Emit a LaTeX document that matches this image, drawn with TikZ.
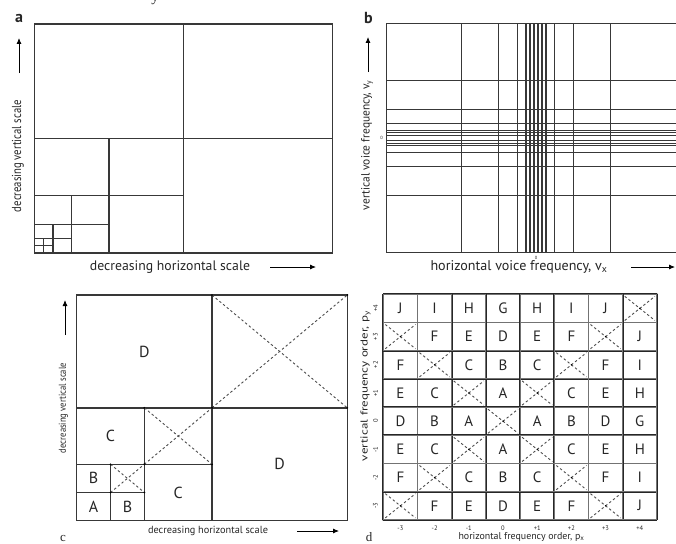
\documentclass[tikz,border=0pt]{standalone}
\usepackage{fontspec}
\setmainfont{PT Sans}
\newfontfamily\serifface{Liberation Serif}
\usetikzlibrary{arrows.meta}
\definecolor{ln}{gray}{0.22}
\definecolor{dash}{gray}{0.3}
\tikzset{
  pline/.style={draw=ln, line width=1.3pt},
  dline/.style={draw=dash, line width=0.9pt, dash pattern=on 2.4pt off 2.4pt},
  dgrid/.style={draw=black!85, line width=0.5pt, double=black!55, double distance=0.9pt},
  arr/.style={draw=black, line width=0.8pt, -{Latex[length=6pt,width=5pt]}},
  lbl/.style={inner sep=0pt, text=black!85},
  cornerdot/.style={fill=black, draw=none},
}
\newcommand\fitw[3]{\resizebox{#1}{\height}{\fontsize{#2}{#2}\selectfont #3}}
\newcommand\fitp[3]{\resizebox{#1}{!}{\fontsize{#2}{#2}\selectfont #3}}
\begin{document}
\begin{tikzpicture}[x=1pt,y=-1pt]
\useasboundingbox (0,0) rectangle (676,543);
\clip (0,0) rectangle (676,543);
\fill[white] (0,0) rectangle (676,543);

% stray glyph at top
\node[lbl, anchor=base] (topy) at (155,2) {\serifface\fontsize{15}{15}\selectfont y};

% ================= panel a =================
\node[lbl] (la) at (19,18) {\fontsize{16}{16}\selectfont\bfseries a};
\draw[pline] (34.5,24) rectangle (332.5,253);
\foreach \k in {1,...,5}{
  \pgfmathsetmacro\vx{34.5+298/2^\k}
  \pgfmathsetmacro\vt{253-229/2^(\k-1)}
  \pgfmathsetmacro\hy{253-229/2^\k}
  \pgfmathsetmacro\hx{34.5+298/2^(\k-1)}
  \draw[pline] (\vx,253) -- (\vx,\vt);
  \draw[pline] (34.5,\hy) -- (\hx,\hy);
}
\node[lbl, rotate=90] (avl) at (18,156) {\fitw{112pt}{13}{decreasing vertical scale}};
\node[lbl] (ahl) at (170,267) {\fitp{160pt}{13}{decreasing horizontal scale}};
\coordinate (aua) at (19,73); \coordinate (aub) at (19,38);
\coordinate (ara) at (270,267); \coordinate (arb) at (316,267);
\draw[arr] (aua) -- (aub);
\draw[arr] (ara) -- (arb);

% ================= panel b =================
\node[lbl] (lb) at (368.5,18) {\fontsize{16}{16}\selectfont\bfseries b};
\draw[pline] (386.7,23.3) rectangle (684.7,252.7);
\foreach \d in {2,6,10,18.6,37.3,74.5}{
  \draw[pline] (536-\d,23.3) -- (536-\d,252.7);
  \draw[pline] (536+\d,23.3) -- (536+\d,252.7);
}
\foreach \d in {2.6,5.2,7.8,14.3,28.7,57.3}{
  \draw[pline] (386.7,138-\d) -- (684.7,138-\d);
  \draw[pline] (386.7,138+\d) -- (684.7,138+\d);
}
\node[lbl] (b0l) at (381.5,137.5) {\fontsize{4.5}{4.5}\selectfont 0};
\node[lbl] (b0b) at (536,257.5) {\fontsize{4.5}{4.5}\selectfont 0};
\node[lbl, rotate=90] (bvl) at (367,145) {\fitw{130pt}{12}{vertical voice frequency, v\textsubscript{y}}};
\node[lbl] (bhl) at (519,267) {\fitp{177pt}{13}{horizontal voice frequency, v\textsubscript{x}}};
\coordinate (bua) at (368,72); \coordinate (bub) at (368,37);
\coordinate (bra) at (631,267); \coordinate (brb) at (675,267);
\draw[arr] (bua) -- (bub);
\draw[arr] (bra) -- (brb);

% ================= panel c =================
\def\cx{76.7}\def\cw{270.6}\def\cb{520.7}\def\ch{225.7}
\draw[pline] (\cx,295) rectangle (\cx+\cw,\cb);
\foreach \k/\lt in {1/D,2/C,3/B}{
  \pgfmathsetmacro\vx{\cx+\cw/2^\k}
  \pgfmathsetmacro\vxx{\cx+\cw/2^(\k-1)}
  \pgfmathsetmacro\vt{\cb-\ch/2^(\k-1)}
  \pgfmathsetmacro\hy{\cb-\ch/2^\k}
  \draw[pline] (\vx,\cb) -- (\vx,\vt);
  \draw[pline] (\cx,\hy) -- (\vxx,\hy);
  \draw[dline] (\vx,\vt) -- (\vxx,\hy);
  \draw[dline] (\vx,\hy) -- (\vxx,\vt);
  \foreach \px/\py in {\vx/\vt,\vxx/\hy,\vx/\hy,\vxx/\vt}{
    \fill[cornerdot] (\px,\py) circle (1pt);
  }
  \node[lbl] (ctl\k) at ({(\cx+\vx)/2},{(\vt+\hy)/2}) {\fontsize{16}{16}\selectfont \lt};
  \node[lbl] (cbr\k) at ({(\vx+\vxx)/2},{(\hy+\cb)/2}) {\fontsize{16}{16}\selectfont \lt};
}
\node[lbl] (cA) at ({\cx+\cw/16},{\cb-\ch/16}) {\fontsize{16}{16}\selectfont A};
\node[lbl, rotate=90] (cvl) at (63.5,408) {\fitw{90pt}{10}{decreasing vertical scale}};
\node[lbl] (chl) at (208,531) {\fitp{120pt}{10}{decreasing horizontal scale}};
\coordinate (cua) at (65,335); \coordinate (cub) at (65,300);
\coordinate (cra) at (297,531); \coordinate (crb) at (339,531);
\draw[arr] (cua) -- (cub);
\draw[arr] (cra) -- (crb);
\node[lbl, anchor=base] (lc) at (63,541.5) {\serifface\fontsize{13}{13}\selectfont c};

% ================= panel d =================
\def\dx{383.3}\def\dy{294.3}\def\dw{34.2}\def\dh{28.2}
\foreach \row [count=\i from 0] in {{J,I,H,G,H,I,J,X},{X,F,E,D,E,F,X,J},{F,X,C,B,C,X,F,I},{E,C,X,A,X,C,E,H},{D,B,A,X,A,B,D,G},{E,C,X,A,X,C,E,H},{F,X,C,B,C,X,F,I},{X,F,E,D,E,F,X,J}}{
  \foreach \lt [count=\j from 0] in \row {
    \pgfmathsetmacro\xa{\dx+\j*\dw}
    \pgfmathsetmacro\xb{\dx+(\j+1)*\dw}
    \pgfmathsetmacro\ya{\dy+\i*\dh}
    \pgfmathsetmacro\yb{\dy+(\i+1)*\dh}
    \if\lt X
      \draw[dline] (\xa+2,\ya+2) -- (\xb-2,\yb-2);
      \draw[dline] (\xa+2,\yb-2) -- (\xb-2,\ya+2);
      \foreach \px/\py in {\xa/\ya,\xb/\yb,\xa/\yb,\xb/\ya}{
        \fill[cornerdot] (\px,\py) circle (0.9pt);
      }
      \fill[cornerdot] ({(\xa+\xb)/2},{(\ya+\yb)/2}) circle (0.8pt);
    \else
      \node[lbl] (d-\i-\j) at ({(\xa+\xb)/2},{(\ya+\yb)/2}) {\fontsize{15}{15}\selectfont \lt};
    \fi
  }
}
\foreach \k in {0,...,8}{
  \draw[dgrid] (\dx+\k*\dw,\dy) -- (\dx+\k*\dw,\dy+8*\dh);
  \draw[dgrid] (\dx,\dy+\k*\dh) -- (\dx+8*\dw,\dy+\k*\dh);
}
\foreach \t [count=\j from 0] in {-3,-2,-1,0,+1,+2,+3,+4}{
  \node[lbl] (dcx\j) at (\dx+\j*\dw+\dw/2,528.5) {\fontsize{6.5}{6.5}\selectfont \t};
}
\foreach \t [count=\i from 0] in {+4,+3,+2,+1,0,-1,-2,-3}{
  \node[lbl, rotate=90] (dry\i) at (375.5,\dy+\i*\dh+\dh/2) {\fontsize{6.5}{6.5}\selectfont \t};
}
\node[lbl] (dhl) at (521.5,536.5) {\fitp{126pt}{10}{horizontal frequency order, p\textsubscript{x}}};
\node[lbl, rotate=90] (dvl) at (365.5,386) {\fitw{150pt}{10}{vertical frequency order, p\textsubscript{y}}};
\node[lbl, anchor=base] (ld) at (369,541.5) {\serifface\fontsize{13}{13}\selectfont d};
\end{tikzpicture}
\end{document}
